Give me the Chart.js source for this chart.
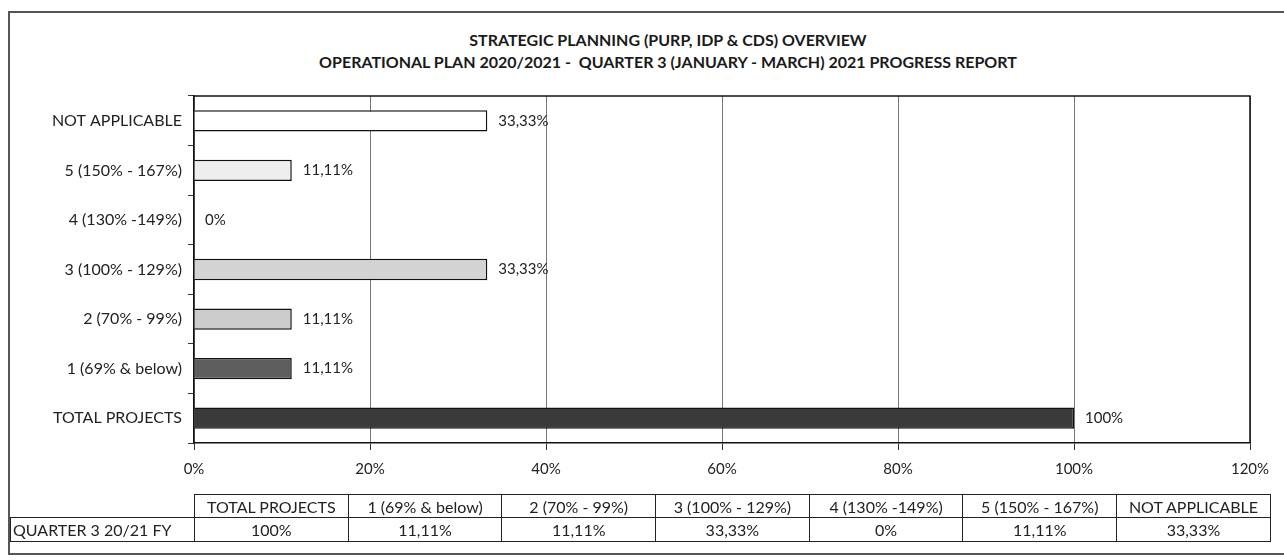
<!DOCTYPE html>
<html>
<head>
<meta charset="utf-8">
<script src="https://cdn.jsdelivr.net/npm/chart.js@4.4.0/dist/chart.umd.min.js"></script>
<style>
  html, body { margin: 0; padding: 0; background: #fff; }
  #wrap { position: relative; width: 1284px; height: 560px; overflow: hidden; }
  #frame { position: absolute; left: 8px; top: 11px; width: 1300px; height: 544px; border: 2px solid #555; box-sizing: border-box; }
  #chart { position: absolute; left: 0; top: 0; }
  #title { position: absolute; left: 0; top: 29px; width: 1336px; text-align: center;
    font-family: Lato, sans-serif; font-weight: bold; font-size: 16px; line-height: 22px; color: #1a1a1a; white-space: pre; }
  #dataTable { position: absolute; left: 10px; top: 494px; border-collapse: collapse; table-layout: fixed;
    font-family: Lato, sans-serif; font-size: 16px; color: #222; }
  #dataTable td { border: 1.5px solid #222; text-align: center; padding: 0; white-space: nowrap; overflow: hidden; }
  #dataTable tr.head td { height: 22px; }
  #dataTable tr.vals td { height: 23px; }
  #dataTable td.blank { border: none; }
  #dataTable td.rowLabel { text-align: left; padding-left: 2px; }
</style>
</head>
<body>
<div id="wrap">
  <div id="frame"></div>
  <div id="title"></div>
  <canvas id="chart" width="1284" height="560"></canvas>
  <table id="dataTable"></table>
</div>
<script>
const titleLines = [
  'STRATEGIC PLANNING (PURP, IDP & CDS) OVERVIEW',
  'OPERATIONAL PLAN 2020/2021 -  QUARTER 3 (JANUARY - MARCH) 2021 PROGRESS REPORT'
];
const categories = ['TOTAL PROJECTS', '1 (69% & below)', '2 (70% - 99%)', '3 (100% - 129%)',
  '4 (130% -149%)', '5 (150% - 167%)', 'NOT APPLICABLE'];
const values = [100, 11.11, 11.11, 33.33, 0, 11.11, 33.33];
const seriesName = 'QUARTER 3 20/21 FY';
const barColors = ['#3a3a3a', '#5e5e5e', '#cccccc', '#d3d3d3', '#e0e0e0', '#eeeeee', '#ffffff'];
const xMin = 0, xMax = 120, xStep = 20;

function fmt(v) {
  if (Number.isInteger(v)) return v + '%';
  return v.toFixed(2).replace('.', ',') + '%';
}

document.getElementById('title').textContent = titleLines.join('\n');

// data table under the chart
const table = document.getElementById('dataTable');
const colW = 153.7;
let html = '<colgroup><col style="width:184px">' + categories.map(() => '<col style="width:' + colW + 'px">').join('') + '</colgroup>';
html += '<tr class="head"><td class="blank"></td>' + categories.map(c => '<td>' + c + '</td>').join('') + '</tr>';
html += '<tr class="vals"><td class="rowLabel">' + seriesName + '</td>' + values.map(v => '<td>' + fmt(v) + '</td>').join('') + '</tr>';
table.innerHTML = html;

const barLabels = {
  id: 'barLabels',
  afterDatasetsDraw(chart) {
    const ctx = chart.ctx;
    const meta = chart.getDatasetMeta(0);
    ctx.save();
    ctx.font = '15px Lato';
    ctx.fillStyle = '#222';
    ctx.textAlign = 'left';
    ctx.textBaseline = 'middle';
    meta.data.forEach((bar, i) => {
      ctx.fillText(fmt(values[i]), bar.x + 11, bar.y);
    });
    ctx.restore();
  }
};

const plotBorder = {
  id: 'plotBorder',
  afterDraw(chart) {
    const a = chart.chartArea;
    const ctx = chart.ctx;
    ctx.save();
    ctx.strokeStyle = '#111';
    ctx.lineWidth = 1.5;
    ctx.beginPath();
    ctx.moveTo(a.left, a.top);
    ctx.lineTo(a.right, a.top);
    ctx.lineTo(a.right, a.bottom);
    ctx.stroke();
    ctx.restore();
  }
};

new Chart(document.getElementById('chart'), {
  type: 'bar',
  data: {
    labels: categories,
    datasets: [{
      label: seriesName,
      data: values,
      backgroundColor: barColors,
      borderColor: '#111',
      borderWidth: 1.5,
      barPercentage: 0.43,
      categoryPercentage: 1
    }]
  },
  options: {
    indexAxis: 'y',
    responsive: false,
    animation: false,
    layout: { padding: { left: 0, right: 34, top: 96, bottom: 77 } },
    plugins: {
      legend: { display: false },
      tooltip: { enabled: false },
      title: { display: false }
    },
    scales: {
      x: {
        min: xMin,
        max: xMax,
        ticks: {
          stepSize: xStep,
          color: '#222',
          font: { family: 'Lato', size: 15 },
          padding: 10,
          callback: v => v + '%'
        },
        grid: { color: '#777', lineWidth: 1, tickLength: 7, tickColor: '#333' },
        border: { color: '#111', width: 1.5 },
        afterFit: s => { s.height = 40; }
      },
      y: {
        reverse: true,
        ticks: { color: '#222', font: { family: 'Lato', size: 16 }, padding: 6 },
        grid: { drawOnChartArea: false, tickLength: 6, color: '#333' },
        border: { color: '#111', width: 1.5 },
        afterFit: s => { s.width = 194; }
      }
    }
  },
  plugins: [barLabels, plotBorder]
});
</script>
</body>
</html>
